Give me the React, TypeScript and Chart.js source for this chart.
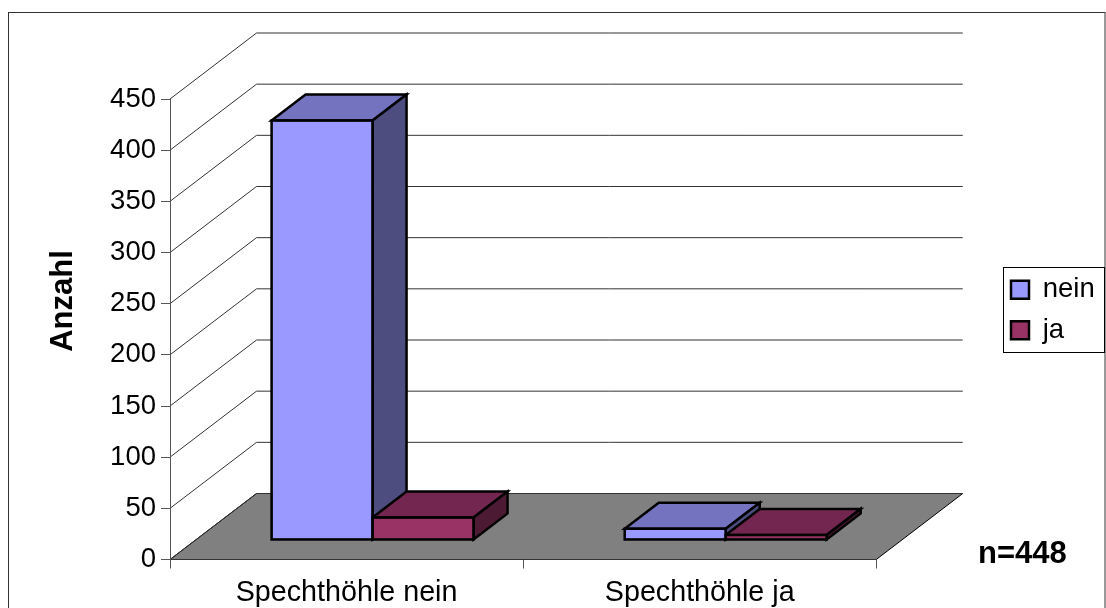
import React, { useEffect, useRef } from "react";
import { Chart, registerables } from "chart.js";

Chart.register(...registerables);

const categories = ["Spechthöhle nein", "Spechthöhle ja"];
const neinValues = [410, 11];
const jaValues = [22, 5];
const seriesNames = ["nein", "ja"];
const axisTitle = "Anzahl";
const note = "n=448";

const FONT = "'Liberation Sans', Arial, sans-serif";
const WALL = { dx: 86.5, dy: -66 };
const PLANE = { dx: 26, dy: -19.5 };
const BAR = { dx: 34, dy: -26 };
const EDGE = 2.5;
const faces = [
  { front: "#9999FF", top: "#7373BF", side: "#4D4D80" },
  { front: "#993366", top: "#732650", side: "#4D1A33" },
];

function poly(ctx: CanvasRenderingContext2D, pts: number[][], fill: string | null, stroke: string | null, lw = 1) {
  ctx.beginPath();
  pts.forEach(([x, y], i) => (i ? ctx.lineTo(x, y) : ctx.moveTo(x, y)));
  ctx.closePath();
  if (fill) {
    ctx.fillStyle = fill;
    ctx.fill();
  }
  if (stroke) {
    ctx.strokeStyle = stroke;
    ctx.lineWidth = lw;
    ctx.lineJoin = "miter";
    ctx.stroke();
  }
}

function eachBar(chart: any, fn: (d: number, l: number, r: number, t: number, b: number) => void) {
  const n = chart.data.labels.length;
  for (let c = 0; c < n; c++) {
    chart.data.datasets.forEach((_: any, d: number) => {
      const el = chart.getDatasetMeta(d).data[c];
      fn(d, el.x - el.width / 2, el.x + el.width / 2, el.y, el.base);
    });
  }
}

const threeD = {
  id: "threeD",
  beforeDraw(chart: any) {
    const { ctx, scales } = chart;
    const { x, y } = scales;
    ctx.save();
    // outer frame
    ctx.strokeStyle = "#333";
    ctx.lineWidth = 1;
    ctx.strokeRect(8.5, 12.5, 1096.5, 800);
    // floor
    const y0 = y.getPixelForValue(0);
    poly(
      ctx,
      [
        [x.left, y0],
        [x.right, y0],
        [x.right + WALL.dx, y0 + WALL.dy],
        [x.left + WALL.dx, y0 + WALL.dy],
      ],
      "#808080",
      "#000",
      1
    );
    // wall gridlines
    ctx.strokeStyle = "#333";
    ctx.lineWidth = 1;
    y.ticks.forEach((t: any) => {
      const py = y.getPixelForValue(t.value);
      ctx.beginPath();
      ctx.moveTo(x.left, py);
      ctx.lineTo(x.left + WALL.dx, py + WALL.dy);
      ctx.lineTo(x.right + WALL.dx, py + WALL.dy);
      ctx.stroke();
    });
    ctx.restore();
  },
  beforeDatasetsDraw(chart: any) {
    const { ctx } = chart;
    ctx.save();
    ctx.translate(PLANE.dx, PLANE.dy);
    eachBar(chart, (d, l, r, t, b) => {
      poly(ctx, [[l, t], [r, t], [r + BAR.dx, t + BAR.dy], [l + BAR.dx, t + BAR.dy]], faces[d].top, "#000", EDGE);
      poly(ctx, [[r, t], [r + BAR.dx, t + BAR.dy], [r + BAR.dx, b + BAR.dy], [r, b]], faces[d].side, "#000", EDGE);
    });
    ctx.restore();
    ctx.save();
    ctx.translate(PLANE.dx, PLANE.dy);
  },
  afterDatasetsDraw(chart: any) {
    const { ctx } = chart;
    eachBar(chart, (d, l, r, t, b) => {
      poly(ctx, [[l, t], [r, t], [r, b], [l, b]], null, "#000", EDGE);
    });
    ctx.restore();
  },
  afterLayout(chart: any) {
    const lg = chart.legend;
    if (lg) {
      lg.left = 998;
      lg.right = 1105;
      lg.top = 263;
      lg.bottom = 500;
    }
  },
  afterDraw(chart: any) {
    const { ctx } = chart;
    ctx.save();
    ctx.strokeStyle = "#000";
    ctx.lineWidth = 1;
    ctx.strokeRect(1003.5, 267.5, 101, 85);
    ctx.fillStyle = "#000";
    ctx.font = `bold 31px ${FONT}`;
    ctx.textAlign = "left";
    ctx.textBaseline = "alphabetic";
    ctx.fillText(note, 978, 563);
    ctx.translate(72, 301);
    ctx.rotate(-Math.PI / 2);
    ctx.textAlign = "center";
    ctx.fillText(axisTitle, 0, 0);
    ctx.restore();
  },
};

export default function App() {
  const ref = useRef<HTMLCanvasElement>(null);
  useEffect(() => {
    const chart = new Chart(ref.current!, {
      type: "bar",
      data: {
        labels: categories,
        datasets: [
          { label: seriesNames[0], data: neinValues, backgroundColor: faces[0].front, borderColor: "#000", borderWidth: 1, borderSkipped: false, clip: false as any },
          { label: seriesNames[1], data: jaValues, backgroundColor: faces[1].front, borderColor: "#000", borderWidth: 1, borderSkipped: false, clip: false as any },
        ],
      },
      options: {
        responsive: false,
        animation: false,
        events: [],
        layout: { padding: { left: 100, top: 99, right: 123, bottom: 0 } },
        datasets: { bar: { categoryPercentage: 0.572, barPercentage: 1 } },
        plugins: {
          title: { display: false },
          tooltip: { enabled: false },
          legend: {
            display: true,
            position: "right",
            align: "start",
            labels: {
              boxWidth: 18,
              boxHeight: 18,
              padding: 13,
              color: "#000",
              font: { family: FONT, size: 27.5 },
              generateLabels: (c: any) =>
                (Chart.defaults.plugins.legend.labels as any).generateLabels(c).map((i: any) => ({ ...i, lineWidth: EDGE })),
            },
          },
        },
        scales: {
          x: {
            afterFit: (s: any) => {
              s.height = 48.5;
            },
            grid: { drawOnChartArea: false, drawTicks: true, tickLength: 9, color: "#555", offset: true },
            border: { color: "#333", width: 1 },
            ticks: { color: "#000", font: { family: FONT, size: 28.7 }, autoSkip: false, maxRotation: 0, padding: 7 },
          },
          y: {
            min: 0,
            max: 450,
            afterFit: (s: any) => {
              s.width = 70;
            },
            grid: { drawOnChartArea: false, drawTicks: true, tickLength: 9, color: "#555" },
            border: { color: "#555", width: 1 },
            ticks: { stepSize: 50, color: "#000", font: { family: FONT, size: 27.5 }, padding: 5 },
          },
        },
      },
      plugins: [threeD],
    } as any);
    return () => chart.destroy();
  }, []);
  return (
    <div style={{ position: "absolute", left: 0, top: 0, width: 1106, height: 608 }}>
      <canvas ref={ref} width={1106} height={608} style={{ display: "block" }} />
    </div>
  );
}
